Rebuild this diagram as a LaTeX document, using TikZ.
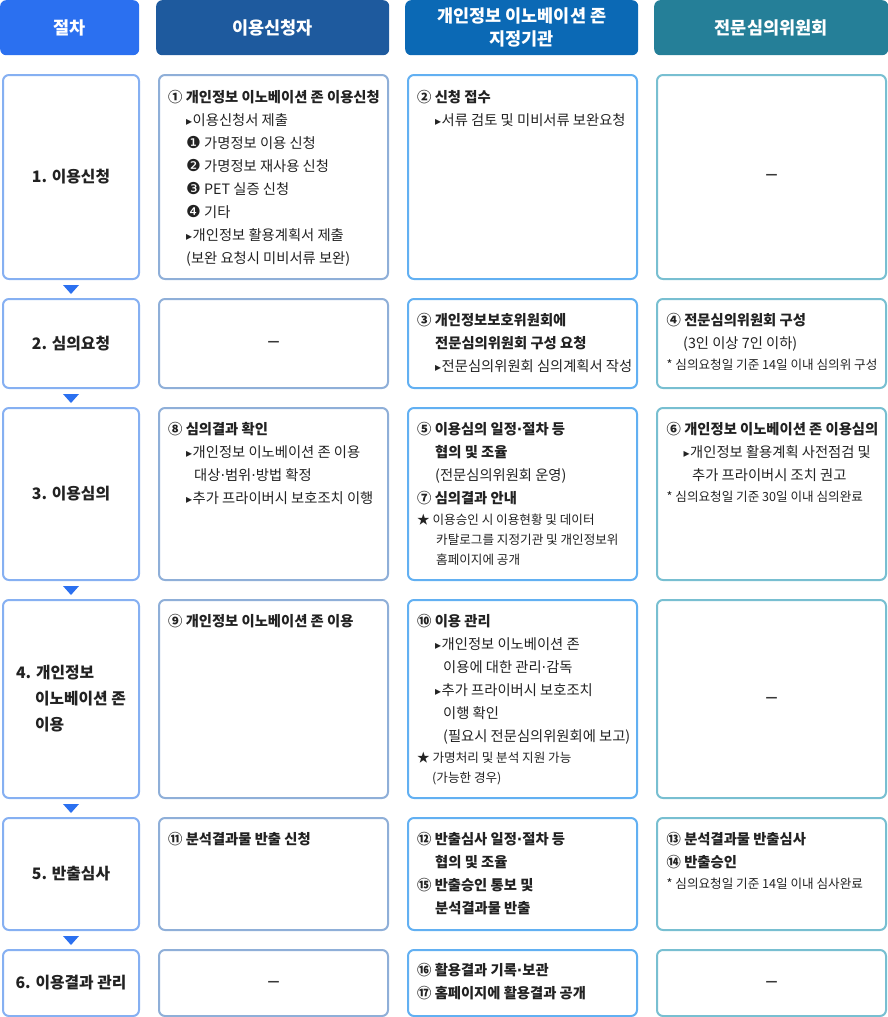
\documentclass[tikz,border=0pt]{standalone}
\usepackage{fontspec}
\setmainfont{Noto Sans CJK KR}
\newfontfamily\symfont{DejaVu Sans}
\usetikzlibrary{calc}
\definecolor{hdrA}{HTML}{2B70F0}
\definecolor{hdrB}{HTML}{1E5A9E}
\definecolor{hdrC}{HTML}{0B69B5}
\definecolor{hdrD}{HTML}{257F98}
\definecolor{lineA}{HTML}{86B0F2}
\definecolor{lineB}{HTML}{8FAFD8}
\definecolor{lineC}{HTML}{62B0F2}
\definecolor{lineD}{HTML}{78BFD1}
\definecolor{ink}{HTML}{222222}
\newcommand\tri{{\symfont\fontsize{12}{12}\selectfont ▸}\hspace{0.5pt}}
\newcommand\dnum[1]{{\symfont\fontsize{16.5}{16.5}\selectfont #1}}
\newcommand\md{{\symfont ·}}
\newcommand\notefont{\fontsize{12.6}{20}\selectfont}
\newcommand\cell[6]{\node[cell=#2, minimum width=#5pt, minimum height=#6pt, anchor=north west] (#1) at (#3,#4) {};}
\tikzset{
  hdr/.style={fill=#1, rounded corners=6pt, inner sep=0, text=white, align=center,
    anchor=north west, minimum height=55pt, font=\fontsize{17.5}{23}\selectfont\bfseries},
  cell/.style={draw=#1, line width=2pt, rounded corners=6pt, fill=white, inner sep=0},
  txt/.style={anchor=north west, inner sep=0, align=left, text=ink, font=\fontsize{14.3}{23}\selectfont},
  stage/.style={inner sep=0, align=left, text=ink, font=\fontsize{15.8}{26}\selectfont\bfseries},
  blank/.style={inner sep=0, text=ink!90, font=\symfont\bfseries\fontsize{12}{12}\selectfont},
  tip/.style={fill=hdrA}
}
\begin{document}
\begin{tikzpicture}[x=1pt, y=-1pt]
  \useasboundingbox (0,0) rectangle (888,1017);
  %%%%% headers %%%%%
  \node[hdr=hdrA, minimum width=139pt] (hA) at (0,0) {절차};
  \node[hdr=hdrB, minimum width=233pt] (hB) at (156,0) {이용신청자};
  \node[hdr=hdrC, minimum width=233pt] (hC) at (405,0) {개인정보 이노베이션 존\\지정기관};
  \node[hdr=hdrD, minimum width=234pt] (hD) at (654,0) {전문심의위원회};

  %%%%% cells %%%%%
  \cell{a1}{lineA}{2}{74}{136}{204}
  \cell{b1}{lineB}{158}{74}{229}{204}
  \cell{c1}{lineC}{407}{74}{229}{204}
  \cell{d1}{lineD}{656}{74}{229}{204}

  \cell{a2}{lineA}{2}{298}{136}{89}
  \cell{b2}{lineB}{158}{298}{229}{89}
  \cell{c2}{lineC}{407}{298}{229}{89}
  \cell{d2}{lineD}{656}{298}{229}{89}

  \cell{a3}{lineA}{2}{407}{136}{172}
  \cell{b3}{lineB}{158}{407}{229}{172}
  \cell{c3}{lineC}{407}{407}{229}{172}
  \cell{d3}{lineD}{656}{407}{229}{172}

  \cell{a4}{lineA}{2}{599}{136}{198}
  \cell{b4}{lineB}{158}{599}{229}{198}
  \cell{c4}{lineC}{407}{599}{229}{198}
  \cell{d4}{lineD}{656}{599}{229}{198}

  \cell{a5}{lineA}{2}{817}{136}{112}
  \cell{b5}{lineB}{158}{817}{229}{112}
  \cell{c5}{lineC}{407}{817}{229}{112}
  \cell{d5}{lineD}{656}{817}{229}{112}

  \cell{a6}{lineA}{2}{949}{136}{66}
  \cell{b6}{lineB}{158}{949}{229}{66}
  \cell{c6}{lineC}{407}{949}{229}{66}
  \cell{d6}{lineD}{656}{949}{229}{66}

  %%%%% flow arrows %%%%%
  \foreach \r in {1,...,5}
    \fill[tip] ($(a\r.south)+(-8,5)$) -- ($(a\r.south)+(8,5)$) -- ($(a\r.south)+(0,14)$) -- cycle;

  %%%%% stages %%%%%
  \node[stage] (a1t) at (a1) {1. 이용신청};
  \node[stage] (a2t) at (a2) {2. 심의요청};
  \node[stage] (a3t) at (a3) {3. 이용심의};
  \node[stage] (a4t) at (a4) {4. 개인정보\\\hspace*{19pt}이노베이션 존\\\hspace*{19pt}이용};
  \node[stage] (a5t) at (a5) {5. 반출심사};
  \node[stage] (a6t) at (a6) {6. 이용결과 관리};

  %%%%% row 1 %%%%%
  \node[txt] (b1t) at (168,90) {{\bfseries ① 개인정보 이노베이션 존 이용신청}\\
    \hspace*{18pt}\tri 이용신청서 제출\\
    \hspace*{18pt}\dnum{❶} 가명정보 이용 신청\\
    \hspace*{18pt}\dnum{❷} 가명정보 재사용 신청\\
    \hspace*{18pt}\dnum{❸} PET 실증 신청\\
    \hspace*{18pt}\dnum{❹} 기타\\
    \hspace*{18pt}\tri 개인정보 활용계획서 제출\\
    \hspace*{18pt}(보완 요청시 미비서류 보완)};
  \node[txt] (c1t) at (417,90) {{\bfseries ② 신청 접수}\\
    \hspace*{18pt}\tri 서류 검토 및 미비서류 보완요청};
  \node[blank] (d1t) at ($(d1)+(0,-1)$) {—};

  %%%%% row 2 %%%%%
  \node[blank] (b2t) at (b2) {—};
  \node[txt] (c2t) at (417,313.5) {{\bfseries ③ 개인정보보호위원회에}\\
    \hspace*{18pt}{\bfseries 전문심의위원회 구성 요청}\\
    \hspace*{18pt}\tri 전문심의위원회 심의계획서 작성};
  \node[txt] (d2t) at (666.5,313.5) {{\bfseries ④ 전문심의위원회 구성}\\
    \hspace*{16.5pt}(3인 이상 7인 이하)\\[-2pt]
    {\notefont * 심의요청일 기준 14일 이내 심의위 구성}};

  %%%%% row 3 %%%%%
  \node[txt] (b3t) at (168,421.7) {{\bfseries ⑧ 심의결과 확인}\\
    \hspace*{18pt}\tri 개인정보 이노베이션 존 이용\\
    \hspace*{26pt}대상\md 범위\md 방법 확정\\
    \hspace*{18pt}\tri 추가 프라이버시 보호조치 이행};
  \node[txt] (c3t) at (417,421.7) {{\bfseries ⑤ 이용심의 일정\md 절차 등}\\
    \hspace*{18pt}{\bfseries 협의 및 조율}\\
    \hspace*{18pt}(전문심의위원회 운영)\\
    {\bfseries ⑦ 심의결과 안내}\\[-2pt]
    {\notefont ★ 이용승인 시 이용현황 및 데이터}\\[-3pt]
    {\notefont\hspace*{19pt}카탈로그를 지정기관 및 개인정보위}\\[-3pt]
    {\notefont\hspace*{19pt}홈페이지에 공개}};
  \node[txt] (d3t) at (666.5,421.7) {{\bfseries ⑥ 개인정보 이노베이션 존 이용심의}\\
    \hspace*{17pt}\tri 개인정보 활용계획 사전점검 및\\
    \hspace*{25.5pt}추가 프라이버시 조치 권고\\[-2pt]
    {\notefont * 심의요청일 기준 30일 이내 심의완료}};

  %%%%% row 4 %%%%%
  \node[txt] (b4t) at (168,614) {{\bfseries ⑨ 개인정보 이노베이션 존 이용}};
  \node[txt] (c4t) at (417,614) {{\bfseries ⑩ 이용 관리}\\
    \hspace*{18pt}\tri 개인정보 이노베이션 존\\
    \hspace*{26pt}이용에 대한 관리\md 감독\\
    \hspace*{18pt}\tri 추가 프라이버시 보호조치\\
    \hspace*{26pt}이행 확인\\
    \hspace*{26pt}(필요시 전문심의위원회에 보고)\\[-2pt]
    {\notefont ★ 가명처리 및 분석 지원 가능}\\[-3pt]
    {\notefont\hspace*{15pt}(가능한 경우)}};
  \node[blank] (d4t) at (d4) {—};

  %%%%% row 5 %%%%%
  \node[txt] (b5t) at (168,831.7) {{\bfseries ⑪ 분석결과물 반출 신청}};
  \node[txt] (c5t) at (417,831.7) {{\bfseries ⑫ 반출심사 일정\md 절차 등}\\
    \hspace*{18pt}{\bfseries 협의 및 조율}\\
    {\bfseries ⑮ 반출승인 통보 및}\\
    \hspace*{18pt}{\bfseries 분석결과물 반출}};
  \node[txt] (d5t) at (666.5,831.7) {{\bfseries ⑬ 분석결과물 반출심사}\\
    {\bfseries ⑭ 반출승인}\\[-2pt]
    {\notefont * 심의요청일 기준 14일 이내 심사완료}};

  %%%%% row 6 %%%%%
  \node[blank] (b6t) at (b6) {—};
  \node[txt] (c6t) at (417,963.4) {{\bfseries ⑯ 활용결과 기록\md 보관}\\
    {\bfseries ⑰ 홈페이지에 활용결과 공개}};
  \node[blank] (d6t) at (d6) {—};
\end{tikzpicture}
\end{document}
